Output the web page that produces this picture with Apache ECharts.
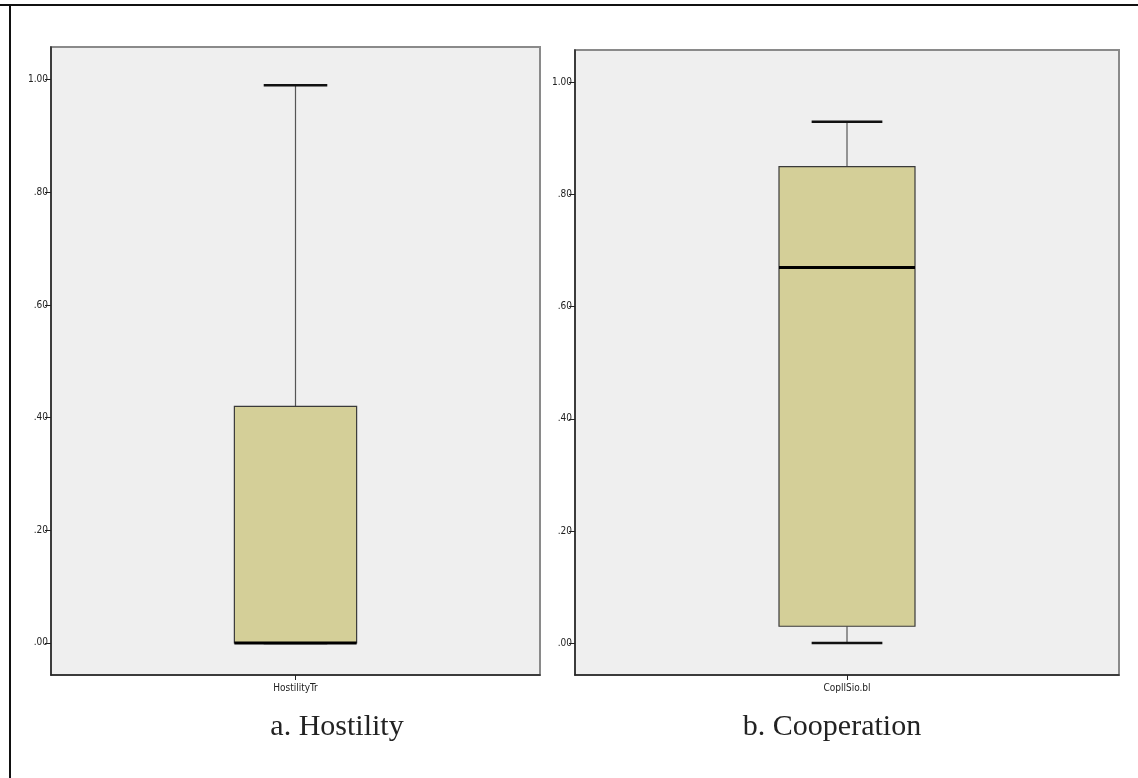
<!DOCTYPE html>
<html>
<head>
<meta charset="utf-8">
<script src="https://cdn.jsdelivr.net/npm/echarts@6/dist/echarts.min.js"></script>
<style>
html,body{margin:0;padding:0;background:#fff;}
#chart{width:1138px;height:778px;}
</style>
</head>
<body>
<div id="chart"></div>
<script>
// ---- data ----
const categoriesA = ['HostilityTr'];
const categoriesB = ['CopllSio.bl'];
// [min, Q1, median, Q3, max]
const hostilityBox = [0.00, 0.00, 0.00, 0.42, 0.99];
const cooperationBox = [0.00, 0.03, 0.67, 0.85, 0.93];
const tickValues = [0, 0.2, 0.4, 0.6, 0.8, 1.0];
const tickLabels = ['.00', '.20', '.40', '.60', '.80', '1.00'];
const captions = ['a. Hostility', 'b. Cooperation'];

const chart = echarts.init(document.getElementById('chart'));

function renderBox(params, api) {
  const cat = api.value(0);
  const mn = api.value(1), q1 = api.value(2), md = api.value(3), q3 = api.value(4), mx = api.value(5);
  const band = api.size([1, 0])[0];
  const bw = band * 0.25, cw = band * 0.13;
  const pMin = api.coord([cat, mn]), pQ1 = api.coord([cat, q1]), pMd = api.coord([cat, md]);
  const pQ3 = api.coord([cat, q3]), pMax = api.coord([cat, mx]);
  const x = pMin[0];
  const children = [];
  children.push({type: 'line', shape: {x1: x, y1: pMax[1], x2: x, y2: pQ3[1]}, style: {stroke: '#555', lineWidth: 1.2}});
  children.push({type: 'line', shape: {x1: x, y1: pQ1[1], x2: x, y2: pMin[1]}, style: {stroke: '#555', lineWidth: 1.2}});
  children.push({type: 'line', shape: {x1: x - cw / 2, y1: pMax[1], x2: x + cw / 2, y2: pMax[1]}, style: {stroke: '#111', lineWidth: 2.5}});
  children.push({type: 'line', shape: {x1: x - cw / 2, y1: pMin[1], x2: x + cw / 2, y2: pMin[1]}, style: {stroke: '#111', lineWidth: 2.5}});
  children.push({type: 'rect', shape: {x: x - bw / 2, y: pQ3[1], width: bw, height: pQ1[1] - pQ3[1]}, style: {fill: '#d4cf98', stroke: '#3a3a3a', lineWidth: 1.2}});
  children.push({type: 'line', shape: {x1: x - bw / 2, y1: pMd[1], x2: x + bw / 2, y2: pMd[1]}, style: {stroke: '#000', lineWidth: 3}});
  return {type: 'group', children: children};
}

const labelFont = {fontFamily: '"Liberation Sans Narrow", "DejaVu Sans Condensed", sans-serif', fontSize: 10, color: '#222'};

function yAxis(idx) {
  return {
    type: 'value', gridIndex: idx, min: -0.057, max: 1.058,
    splitLine: {show: false},
    axisLine: {show: true, lineStyle: {color: '#222', width: 1.5}},
    axisTick: {show: true, length: 6, lineStyle: {color: '#222'}, customValues: tickValues},
    axisLabel: Object.assign({margin: 3, customValues: tickValues,
      formatter: v => tickLabels[Math.round(v / 0.2)]}, labelFont)
  };
}
function xAxis(idx, cats) {
  return {
    type: 'category', gridIndex: idx, data: cats,
    axisLine: {show: true, onZero: false, lineStyle: {color: '#222', width: 1.5}},
    axisTick: {show: true, alignWithLabel: true, length: 5, lineStyle: {color: '#222'}},
    axisLabel: Object.assign({margin: 8}, labelFont)
  };
}

chart.setOption({
  animation: false,
  backgroundColor: '#fff',
  grid: [
    {left: 51, top: 47, width: 489, height: 628, show: true, backgroundColor: '#efefef', borderColor: '#8a8a8a', borderWidth: 2},
    {left: 575, top: 50, width: 544, height: 625, show: true, backgroundColor: '#efefef', borderColor: '#8a8a8a', borderWidth: 2}
  ],
  xAxis: [xAxis(0, categoriesA), xAxis(1, categoriesB)],
  yAxis: [yAxis(0), yAxis(1)],
  title: [
    {text: captions[0], left: 332, top: 707, textAlign: 'center',
     textStyle: {fontFamily: '"Liberation Serif", "DejaVu Serif", serif', fontWeight: 'normal', fontSize: 30, color: '#222'}},
    {text: captions[1], left: 827, top: 707, textAlign: 'center',
     textStyle: {fontFamily: '"Liberation Serif", "DejaVu Serif", serif', fontWeight: 'normal', fontSize: 30, color: '#222'}}
  ],
  graphic: [
    {type: 'line', shape: {x1: 0, y1: 5, x2: 1138, y2: 5}, style: {stroke: '#111', lineWidth: 2}},
    {type: 'line', shape: {x1: 10, y1: 5, x2: 10, y2: 778}, style: {stroke: '#111', lineWidth: 2}}
  ],
  series: [
    {type: 'custom', xAxisIndex: 0, yAxisIndex: 0, renderItem: renderBox,
     encode: {x: 0, y: [1, 2, 3, 4, 5]},
     data: [[0].concat(hostilityBox)]},
    {type: 'custom', xAxisIndex: 1, yAxisIndex: 1, renderItem: renderBox,
     encode: {x: 0, y: [1, 2, 3, 4, 5]},
     data: [[0].concat(cooperationBox)]}
  ]
});
</script>
</body>
</html>
